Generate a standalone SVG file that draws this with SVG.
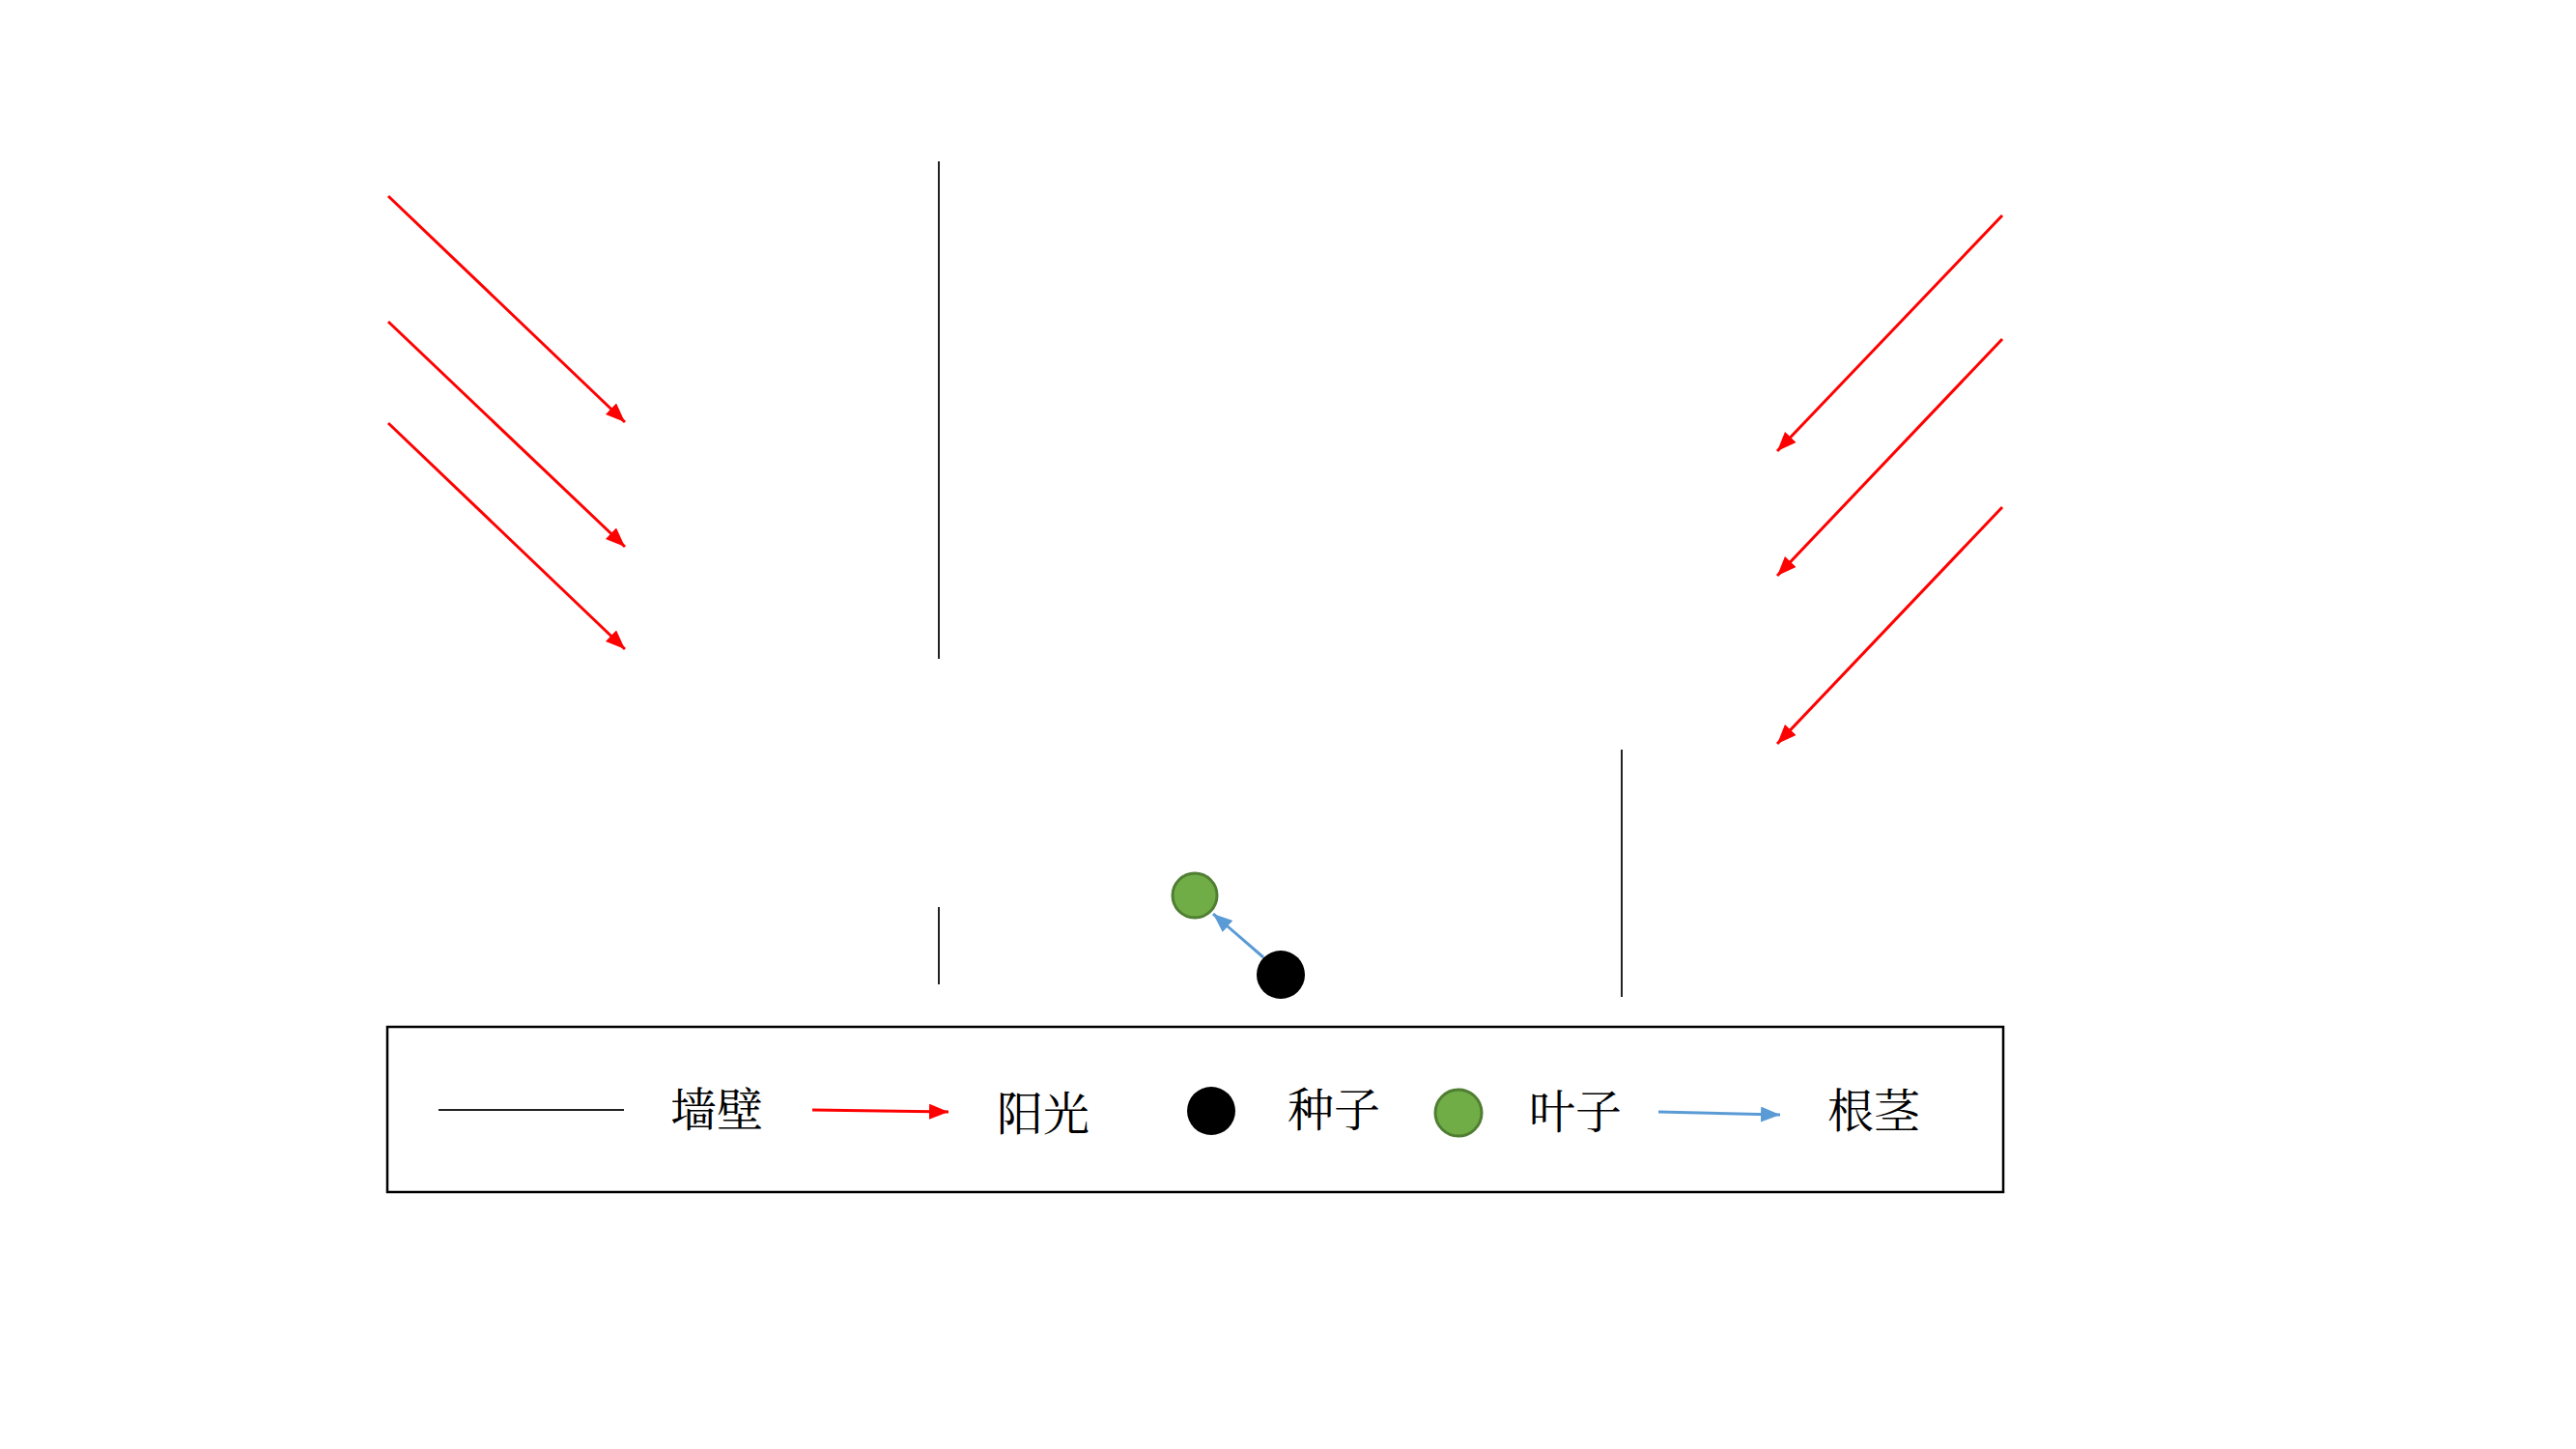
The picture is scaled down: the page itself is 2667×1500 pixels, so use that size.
<svg xmlns="http://www.w3.org/2000/svg" width="2667" height="1500" viewBox="0 0 2667 1500">
<style>
.wall{stroke:#222;stroke-width:2;fill:none}
.sun{stroke:#FF0000;stroke-width:3;fill:none;marker-end:url(#redHead)}
.root{stroke:#5B9BD5;stroke-width:3;fill:none;marker-end:url(#blueHead)}
.seed{fill:#000}
.leaf{fill:#70AD47;stroke:#507E32;stroke-width:3}
.lbl{font-family:"Noto Serif CJK SC","Noto Sans CJK SC",serif;font-size:48px;fill:#000}
</style>
<defs>
<marker id="redHead" markerUnits="userSpaceOnUse" markerWidth="22" markerHeight="18" refX="20" refY="8" orient="auto">
<path d="M0,0 L20,8 L0,16 Z" fill="#FF0000"/>
</marker>
<marker id="blueHead" markerUnits="userSpaceOnUse" markerWidth="22" markerHeight="18" refX="20" refY="8" orient="auto">
<path d="M0,0 L20,8 L0,16 Z" fill="#5B9BD5"/>
</marker>
</defs>
<rect width="2667" height="1500" fill="#fff"/>
<g id="connectors">
<line class="sun" x1="402" y1="203" x2="647" y2="437"/>
<line class="sun" x1="402" y1="333" x2="647" y2="566"/>
<line class="sun" x1="402" y1="438" x2="647" y2="672"/>
<line class="sun" x1="2073" y1="223" x2="1840" y2="467"/>
<line class="sun" x1="2073" y1="351" x2="1840" y2="596"/>
<line class="sun" x1="2073" y1="525" x2="1840" y2="770"/>
<line class="root" x1="1308" y1="991" x2="1256" y2="946"/>
</g>
<g id="walls">
<line class="wall" x1="972" y1="167" x2="972" y2="682"/>
<line class="wall" x1="972" y1="939" x2="972" y2="1019"/>
<line class="wall" x1="1679" y1="776" x2="1679" y2="1032"/>
</g>
<g id="leaf"><circle class="leaf" cx="1237" cy="927" r="23"/></g>
<g id="seed"><circle class="seed" cx="1326" cy="1009" r="25"/></g>
<g id="legend">
<rect x="401" y="1063" width="1673" height="171" fill="none" stroke="#000" stroke-width="2.5"/>
<line x1="454" y1="1149" x2="646" y2="1149" stroke="#222" stroke-width="2"/>
<text class="lbl" x="694" y="1166">墙壁</text>
<line x1="841" y1="1149" x2="982" y2="1151" class="sun"/>
<text class="lbl" x="1032" y="1170">阳光</text>
<circle class="seed" cx="1254" cy="1150" r="25"/>
<text class="lbl" x="1333" y="1166">种子</text>
<circle class="leaf" cx="1510" cy="1152" r="24"/>
<text class="lbl" x="1583" y="1168">叶子</text>
<line x1="1717" y1="1151" x2="1843" y2="1154" class="root"/>
<text class="lbl" x="1892" y="1167">根茎</text>
</g>
</svg>
